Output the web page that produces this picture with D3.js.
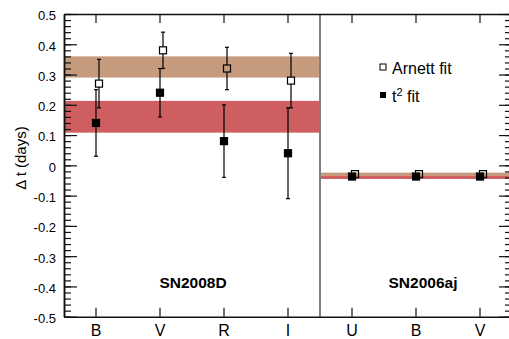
<!DOCTYPE html>
<html>
<head>
<meta charset="utf-8">
<script src="https://cdn.jsdelivr.net/npm/d3@7"></script>
<style>
  body { margin: 0; background: #fff; }
  svg { display: block; font-family: "Liberation Sans", Arial, sans-serif; }
</style>
</head>
<body>
<svg id="chart" width="509" height="339"></svg>
<script>
// groups and filters
const groups = ["SN2008D", "SN2006aj"];
const filters2008D = ["B", "V", "R", "I"];
const filters2006aj = ["U", "B", "V"];

// Arnett fit values and errors
const arnett2008D = [0.27, 0.38, 0.32, 0.28];
const arnettErr2008D = [0.08, 0.06, 0.07, 0.09];
const arnett2006aj = [-0.029, -0.029, -0.029];
const arnettErr2006aj = [0.003, 0.003, 0.003];

// t^2 fit values and errors
const t2fit2008D = [0.14, 0.24, 0.08, 0.04];
const t2fitErr2008D = [0.11, 0.08, 0.12, 0.15];
const t2fit2006aj = [-0.037, -0.037, -0.037];
const t2fitErr2006aj = [0.003, 0.003, 0.003];

// mean bands [low, high]
const arnettBands = [[0.29, 0.36], [-0.035, -0.024]];
const t2fitBands = [[0.108, 0.213], [-0.045, -0.035]];

const yTicks = [-0.5, -0.4, -0.3, -0.2, -0.1, 0, 0.1, 0.2, 0.3, 0.4, 0.5];

// build rows
const slots = [];
filters2008D.forEach((f, i) => slots.push({ id: "a" + i, label: f, group: 0,
  arn: arnett2008D[i], arnErr: arnettErr2008D[i], t2: t2fit2008D[i], t2Err: t2fitErr2008D[i] }));
filters2006aj.forEach((f, i) => slots.push({ id: "b" + i, label: f, group: 1,
  arn: arnett2006aj[i], arnErr: arnettErr2006aj[i], t2: t2fit2006aj[i], t2Err: t2fitErr2006aj[i] }));

const plotL = 64, plotR = 512, plotT = 14, plotB = 316.7;
const svg = d3.select("#chart");

const x = d3.scaleBand().domain(slots.map(d => d.id)).range([plotL, plotR]).padding(0);
const y = d3.scaleLinear().domain([-0.5, 0.5]).range([plotB, plotT]);
const xc = id => x(id) + x.bandwidth() / 2;

// group extents in pixels
const groupExtent = g => {
  const ids = slots.filter(d => d.group === g).map(d => d.id);
  return [x(ids[0]), x(ids[ids.length - 1]) + x.bandwidth()];
};

// bands
const bandData = [];
arnettBands.forEach((b, g) => bandData.push({ g, b, color: "#c69a7c" }));
t2fitBands.forEach((b, g) => bandData.push({ g, b, color: "#ce5e5f" }));
svg.append("g").selectAll("rect")
  .data(bandData)
  .join("rect")
  .attr("x", d => groupExtent(d.g)[0])
  .attr("width", d => groupExtent(d.g)[1] - groupExtent(d.g)[0])
  .attr("y", d => y(d.b[1]))
  .attr("height", d => y(d.b[0]) - y(d.b[1]))
  .attr("fill", d => d.color);

// divider
const divX = groupExtent(0)[1];
svg.append("line")
  .attr("x1", divX).attr("x2", divX)
  .attr("y1", plotT).attr("y2", plotB)
  .attr("stroke", "#7f7f7f").attr("stroke-width", 2);

// axes
const fmt = d => Math.abs(d) < 1e-9 ? "0" : d.toFixed(1);
const minor = d3.range(-0.5, 0.5001, 0.02);

const yLeft = svg.append("g")
  .attr("transform", `translate(${plotL},0)`)
  .call(d3.axisLeft(y).tickValues(yTicks).tickFormat(fmt).tickSizeInner(-13).tickSizeOuter(0).tickPadding(8));
yLeft.selectAll("text").attr("font-size", 13).attr("dy", "0.45em").attr("fill", "#000")
  .style("font-family", "'Liberation Sans', Arial, sans-serif");
svg.append("g")
  .attr("transform", `translate(${plotL},0)`)
  .call(d3.axisLeft(y).tickValues(minor).tickFormat("").tickSizeInner(-7).tickSizeOuter(0));

svg.append("g")
  .attr("transform", `translate(${plotR},0)`)
  .call(d3.axisRight(y).tickValues(yTicks).tickFormat("").tickSizeInner(-13).tickSizeOuter(0));
svg.append("g")
  .attr("transform", `translate(${plotR},0)`)
  .call(d3.axisRight(y).tickValues(minor).tickFormat("").tickSizeInner(-7).tickSizeOuter(0));

const xLabels = new Map(slots.map(d => [d.id, d.label]));
const xBottom = svg.append("g")
  .attr("transform", `translate(0,${plotB})`)
  .call(d3.axisBottom(x).tickFormat(id => xLabels.get(id)).tickSizeInner(-9).tickSizeOuter(0).tickPadding(8));
xBottom.selectAll("text").attr("font-size", 16).attr("fill", "#000")
  .style("font-family", "'Liberation Sans', Arial, sans-serif");
svg.append("g")
  .attr("transform", `translate(0,${plotT})`)
  .call(d3.axisTop(x).tickFormat("").tickSizeInner(-9).tickSizeOuter(0));

svg.selectAll(".domain").attr("stroke", "#111").attr("stroke-width", 1.5);
svg.selectAll(".tick line").attr("stroke", "#111").attr("stroke-width", 1.2);

// error bars and markers
const sq = 7, cap = 2;
const series = [
  { key: "arn", err: "arnErr", dx: 3, fill: "none" },
  { key: "t2", err: "t2Err", dx: 0, fill: "#000" }
];
series.forEach(s => {
  const g = svg.append("g");
  slots.forEach(d => {
    const cx = xc(d.id) + s.dx;
    const cy = y(d[s.key]);
    const hi = y(d[s.key] + d[s.err]);
    const lo = y(d[s.key] - d[s.err]);
    if (hi < cy - sq / 2) {
      g.append("line").attr("x1", cx).attr("x2", cx).attr("y1", hi).attr("y2", cy - sq / 2);
      g.append("line").attr("x1", cx - cap).attr("x2", cx + cap).attr("y1", hi).attr("y2", hi);
    }
    if (lo > cy + sq / 2) {
      g.append("line").attr("x1", cx).attr("x2", cx).attr("y1", cy + sq / 2).attr("y2", lo);
      g.append("line").attr("x1", cx - cap).attr("x2", cx + cap).attr("y1", lo).attr("y2", lo);
    }
    g.append("rect")
      .attr("x", cx - sq / 2).attr("y", cy - sq / 2)
      .attr("width", sq).attr("height", sq)
      .attr("fill", s.fill).attr("stroke", "#000").attr("stroke-width", 1.2);
  });
  g.selectAll("line").attr("stroke", "#000").attr("stroke-width", 1.2);
});

// group labels
const labelX = [193, 423];
groups.forEach((name, g) => {
  svg.append("text")
    .attr("x", labelX[g]).attr("y", 287.5)
    .attr("text-anchor", "middle")
    .attr("font-size", 15.5).attr("font-weight", "bold")
    .text(name);
});

// legend
const legend = svg.append("g");
legend.append("rect").attr("x", 380).attr("y", 64).attr("width", 6).attr("height", 6)
  .attr("fill", "#fff").attr("stroke", "#000").attr("stroke-width", 1);
legend.append("text").attr("x", 392).attr("y", 74).attr("font-size", 16).text("Arnett fit");
legend.append("rect").attr("x", 380).attr("y", 92).attr("width", 6).attr("height", 6)
  .attr("fill", "#000");
const t2label = legend.append("text").attr("x", 392).attr("y", 102).attr("font-size", 16);
t2label.append("tspan").text("t");
t2label.append("tspan").attr("dy", -6).attr("font-size", 11).text("2");
t2label.append("tspan").attr("dy", 6).text(" fit");

// y-axis title
svg.append("text")
  .attr("transform", "translate(26,158) rotate(-90)")
  .attr("text-anchor", "middle")
  .attr("font-size", 15)
  .text("\u0394 t (days)");
</script>
</body>
</html>
